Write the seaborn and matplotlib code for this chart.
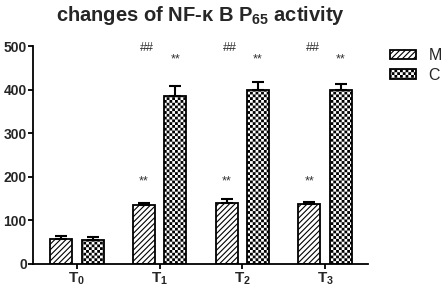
import numpy as np
import pandas as pd
import seaborn as sns
import matplotlib.pyplot as plt
import matplotlib.hatch as mhatch
from matplotlib.path import Path

times = ['T0', 'T1', 'T2', 'T3']
tick_labels = [r'T$_\mathregular{0}$', r'T$_\mathregular{1}$',
               r'T$_\mathregular{2}$', r'T$_\mathregular{3}$']
groups = ['M', 'C']
m_values = [58, 135, 139, 137]
m_errors = [6, 6, 9, 5]
c_values = [55, 385, 400, 398]
c_errors = [6, 23, 18, 15]
m_marks = ['', '**', '**', '**']
c_marks = ['', '**', '**', '**']
top_marks = ['', '##', '##', '##']


# checkerboard hatch: takes over the '*' hatch character
class CheckerHatch(mhatch.HatchPatternBase):
    def __init__(self, hatch, density):
        self.n = 18 * hatch.count('*')
        self.num_vertices = 5 * (self.n * self.n // 2) if self.n else 0

    def set_vertices_and_codes(self, vertices, codes):
        n = self.n
        s = 1.0 / n
        inset = plt.rcParams['hatch.linewidth'] / 144.0
        k = 0
        for i in range(n):
            for j in range(n):
                if (i + j) % 2:
                    continue
                x0, y0 = i * s + inset, j * s + inset
                x1, y1 = (i + 1) * s - inset, (j + 1) * s - inset
                vertices[k:k + 5] = [[x0, y0], [x1, y0], [x1, y1], [x0, y1], [x0, y0]]
                codes[k:k + 5] = [Path.MOVETO, Path.LINETO, Path.LINETO,
                                  Path.LINETO, Path.CLOSEPOLY]
                k += 5


mhatch._hatch_types = [CheckerHatch if h is mhatch.Stars else h
                       for h in mhatch._hatch_types]

sns.set_style('ticks')
plt.rcParams['font.family'] = ['Liberation Sans', 'DejaVu Sans']
plt.rcParams['mathtext.default'] = 'regular'
plt.rcParams['hatch.linewidth'] = 0.8
plt.rcParams['hatch.color'] = 'black'

df = pd.DataFrame({
    'time': times * 2,
    'group': ['M'] * 4 + ['C'] * 4,
    'value': m_values + c_values,
})

fig = plt.figure(figsize=(4.42, 2.91), dpi=100)
ax = fig.add_axes([0.0747, 0.0928, 0.7579, 0.749])

sns.barplot(data=df, x='time', y='value', hue='group', order=times,
            hue_order=groups, palette=['white', 'white'], saturation=1,
            edgecolor='black', linewidth=1.3, width=0.76, gap=0.3,
            errorbar=None, legend=False, ax=ax)

bars = list(ax.containers[:2])
for p in bars[0]:
    p.set_hatch('//////')
for p in bars[1]:
    p.set_hatch('**')

errs = [m_errors, c_errors]
vals = [m_values, c_values]
for cont, v, e in zip(bars, vals, errs):
    xs = [p.get_x() + p.get_width() / 2 for p in cont]
    ax.errorbar(xs, v, yerr=[np.zeros(len(e)), e], fmt='none', ecolor='black',
                elinewidth=1.5, capsize=4.3, capthick=1.5)

m_x = [p.get_x() + p.get_width() / 2 for p in bars[0]]
c_x = [p.get_x() + p.get_width() / 2 for p in bars[1]]
for i in range(len(times)):
    ax.text(m_x[i], 183, m_marks[i], ha='center', va='baseline', fontsize=9, color='#333333')
    ax.text(c_x[i], 462, c_marks[i], ha='center', va='baseline', fontsize=9, color='#333333')
    ax.text(m_x[i] + 0.04, 488, top_marks[i], ha='center', va='baseline', fontsize=9,
            color='#333333', clip_on=False)

ax.set_ylim(0, 500)
ax.set_xlim(-0.53, 3.52)
ax.set_yticks([0, 100, 200, 300, 400, 500])
ax.set_xticks(range(len(times)), labels=tick_labels)
ax.set_xlabel('')
ax.set_ylabel('')
for lab in ax.get_xticklabels():
    lab.set_fontweight('bold')
    lab.set_fontsize(11)
for lab in ax.get_yticklabels():
    lab.set_fontweight('bold')
    lab.set_fontsize(10)
ax.tick_params(axis='both', direction='out', length=3.5, width=1.3, pad=1, color='black')
sns.despine(ax=ax)
for side in ['left', 'bottom']:
    ax.spines[side].set_linewidth(1.3)
    ax.spines[side].set_color('black')

ax.set_title(r'changes of NF-κ B P$_\mathregular{65}$ activity', fontsize=14.5,
             fontweight='bold', pad=18)

ax.legend(handles=bars, labels=groups, loc='upper left',
          bbox_to_anchor=(390 / 442, 1 - 48 / 291), bbox_transform=fig.transFigure,
          frameon=False, fontsize=11.5, handlelength=1.6, handleheight=0.55,
          handletextpad=0.8, labelspacing=0.3, borderpad=0, borderaxespad=0)

fig.savefig('out.png', dpi=100)
